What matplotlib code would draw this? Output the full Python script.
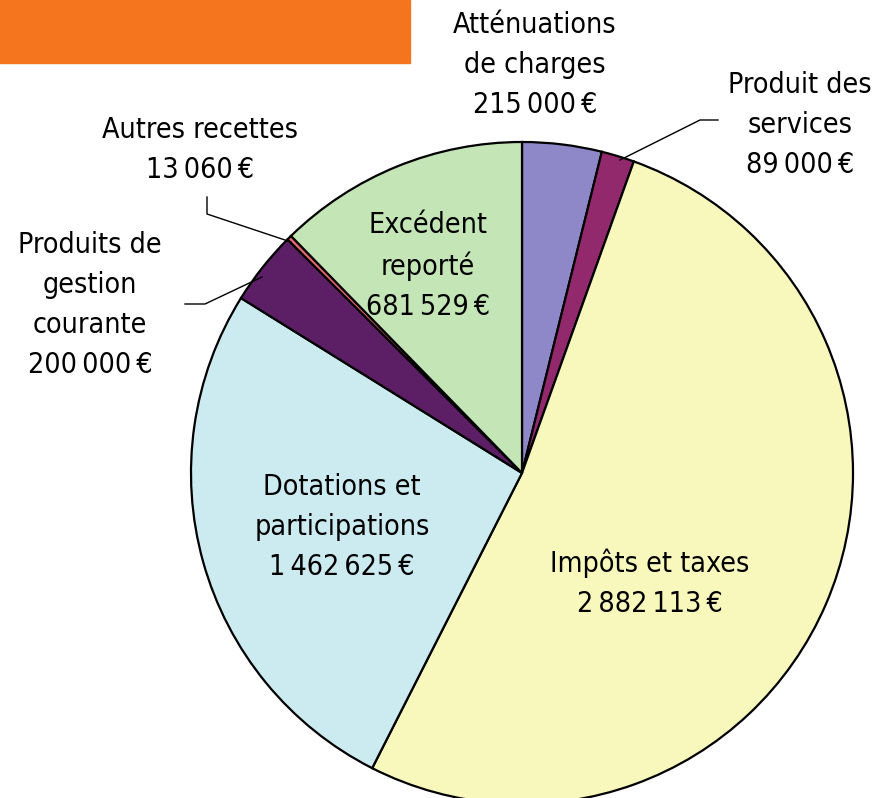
import matplotlib.pyplot as plt
from matplotlib.patches import Rectangle

# data, clockwise from the top
labels = ["Atténuations\nde charges", "Produit des\nservices", "Impôts et taxes",
          "Dotations et\nparticipations", "Produits de\ngestion\ncourante",
          "Autres recettes", "Excédent\nreporté"]
values = [215000, 89000, 2882113, 1462625, 200000, 13060, 681529]
colors = ["#8E88C9", "#93296D", "#F8F8BC", "#CBEBF1", "#5C1F66", "#E8696E", "#C4E6B6"]


def euro(v):
    s = f"{v:,}".replace(",", "\u2009")
    return s + "\u2009€"


H = 798
fig = plt.figure(figsize=(8.77, 7.98), dpi=100)
ax = fig.add_axes([0, 0, 1, 1])

cx, cy, r = 522, H - 473, 331
wedges, _ = ax.pie(values, colors=colors, startangle=90, counterclock=False,
                   center=(cx, cy), radius=r, frame=True,
                   wedgeprops=dict(edgecolor="black", linewidth=1.6))
ax.set_xlim(0, 877)
ax.set_ylim(0, H)
ax.set_aspect("equal")
ax.axis("off")

ax.add_patch(Rectangle((0, H - 63), 410, 63, color="#F4751E", zorder=5))

font = dict(fontsize=20.5, fontstretch="condensed", ha="center", va="center",
            linespacing=1.55, color="black")

# label positions in pixel coords (x, y from top)
pos = [(535, 65), (800, 125), (650, 583), (342, 527), (90, 305), (200, 150), (428, 266)]
for lab, v, (x, y) in zip(labels, values, pos):
    ax.text(x, H - y, lab + "\n" + euro(v), **font)

# leader lines
lines = [
    [(620, 160), (700, 120), (718, 120)],
    [(291, 242), (207, 214), (207, 197)],
    [(262, 277), (205, 304), (185, 304)],
]
for pts in lines:
    xs = [p[0] for p in pts]
    ys = [H - p[1] for p in pts]
    ax.plot(xs, ys, color="black", lw=1.0)

fig.savefig("out.png", dpi=100)
